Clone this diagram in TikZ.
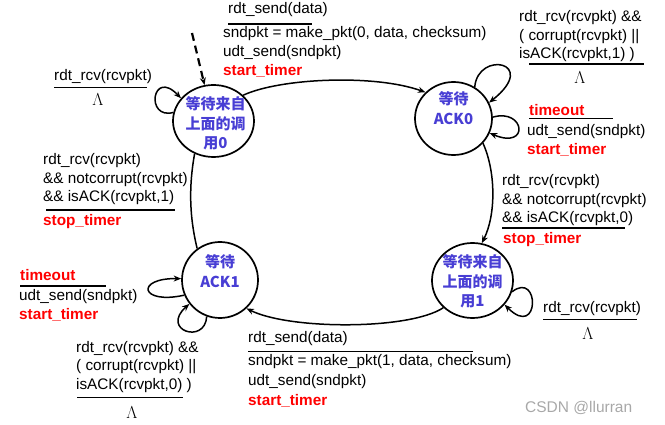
\documentclass[tikz,border=0pt]{standalone}
\usepackage{fontspec}
\setmainfont{Liberation Sans}
\newfontfamily\cjk{Noto Sans CJK SC}
\usetikzlibrary{arrows.meta,shapes.geometric}
\definecolor{stblue}{RGB}{72,62,212}
\definecolor{wmgray}{RGB}{168,168,168}
\begin{document}
\begin{tikzpicture}[x=1pt,y=-1pt,
  txt/.style={anchor=west,inner sep=0pt,font=\fontsize{15.3}{18}\selectfont},
  redtxt/.style={txt,text=red,font=\fontsize{15.3}{18}\selectfont\bfseries},
  lam/.style={inner sep=0pt,font=\fontsize{17.5}{20}\selectfont},
  stnode/.style={draw,ellipse,line width=1.7pt,inner sep=0pt},
  sttxt/.style={inner sep=0pt,align=center,text=stblue,font=\cjk\bfseries\fontsize{15}{19.5}\selectfont},
  uline/.style={line width=1.9pt},
  edge/.style={line width=1.5pt,-{Stealth[length=7.5pt,width=6pt]}},
  plainedge/.style={line width=1.5pt}]
\useasboundingbox (0,0) rectangle (665,425);

% states
\node[stnode,minimum width=81pt,minimum height=72pt] (s0) at (213.5,121) {};
\node[sttxt] (s0t) at (215.5,123.5) {等待来自\\上面的调\\用0};
\node[stnode,minimum width=77pt,minimum height=73pt] (ack0) at (453.5,118.5) {};
\node[sttxt] (ack0t) at (453.5,108) {等待\\ACK0};
\node[stnode,minimum width=76pt,minimum height=76pt] (ack1) at (220,280) {};
\node[sttxt] (ack1t) at (220,271) {等待\\ACK1};
\node[stnode,minimum width=81pt,minimum height=75pt] (s1) at (472.5,280.5) {};
\node[sttxt] (s1t) at (472.5,281.5) {等待来自\\上面的调\\用1};

% initial dashed arrow
\coordinate (init) at (192,33);
\draw[edge,line width=2.2pt,dash pattern=on 8pt off 5pt] (init) -- (s0.104);

% transitions
\draw[edge] (s0.41) .. controls (280,78) and (375,74) .. (ack0.137);
\draw[edge] (ack0.-40) .. controls (496,172) and (496,215) .. (s1.76);
\draw[edge] (s1.223) .. controls (410,330) and (290,330) .. (ack1.-47);
\draw[plainedge] (ack1.126) .. controls (189,215) and (189,185) .. (s0.240);

% self loops
\draw[edge] (s0.168) .. controls (145,120) and (152,68) .. (s0.145);
\draw[edge] (ack0.56) .. controls (478,50) and (540,62) .. (ack0.24);
\draw[edge] (ack0.2) .. controls (525,108) and (530,150) .. (ack0.-22);
\draw[edge] (s1.-16) .. controls (540,270) and (540,340) .. (s1.-37);
\draw[edge] (ack1.203) .. controls (140,305) and (135,278) .. (ack1.178);
\draw[edge] (ack1.250) .. controls (205,345) and (160,330) .. (ack1.218);

% top label (s0 -> ack0)
\node[txt] (t1) at (228,10) {rdt\_send(data)};
\draw[uline] (228,24) -- (312,24);
\node[txt] (t2) at (223,34) {sndpkt = make\_pkt(0, data, checksum)};
\node[txt] (t3) at (223,52.5) {udt\_send(sndpkt)};
\node[redtxt] (t4) at (223,71) {start\_timer};

% s0 self-loop label
\node[txt] (a1) at (54,77) {rdt\_rcv(rcvpkt)};
\draw[uline] (54,87.5) -- (147,87.5);
\node[lam] (a2) at (98,100) {$\Lambda$};

% left label (ack1 -> s0)
\node[txt] (l1) at (43,161) {rdt\_rcv(rcvpkt)};
\node[txt] (l2) at (43,179.5) {\&\& notcorrupt(rcvpkt)};
\node[txt] (l3) at (43,198) {\&\& isACK(rcvpkt,1)};
\draw[uline] (46,210) -- (175,210);
\node[redtxt] (l4) at (43,222) {stop\_timer};

% ack0 upper loop label
\node[txt] (b1) at (519,18) {rdt\_rcv(rcvpkt) \&\&};
\node[txt] (b2) at (519,37) {( corrupt(rcvpkt) ||};
\node[txt] (b3) at (519,55) {isACK(rcvpkt,1) )};
\draw[uline] (529,64) -- (644,64);
\node[lam] (b4) at (580,78) {$\Lambda$};

% ack0 timeout label
\node[redtxt] (c1) at (529,110) {timeout};
\draw[uline] (529,118.5) -- (613,118.5);
\node[txt] (c2) at (527,131.5) {udt\_send(sndpkt)};
\node[redtxt] (c3) at (527,150) {start\_timer};

% right label (ack0 -> s1)
\node[txt] (r1) at (502,182) {rdt\_rcv(rcvpkt)};
\node[txt] (r2) at (502,200.5) {\&\& notcorrupt(rcvpkt)};
\node[txt] (r3) at (502,218.5) {\&\& isACK(rcvpkt,0)};
\draw[uline] (502,228) -- (625,228);
\node[redtxt] (r4) at (503,240) {stop\_timer};

% s1 self-loop label
\node[txt] (d1) at (543,309) {rdt\_rcv(rcvpkt)};
\draw[uline] (543,319.5) -- (637,319.5);
\node[lam] (d2) at (588,334) {$\Lambda$};

% bottom label (s1 -> ack1)
\node[txt] (e1) at (248,338.5) {rdt\_send(data)};
\draw[uline] (248,351.5) -- (473,351.5);
\node[txt] (e2) at (248,362) {sndpkt = make\_pkt(1, data, checksum)};
\node[txt] (e3) at (248,381.5) {udt\_send(sndpkt)};
\node[redtxt] (e4) at (248,400.5) {start\_timer};

% ack1 timeout label
\node[redtxt] (f1) at (20,275) {timeout};
\draw[uline] (20,286) -- (106,286);
\node[txt] (f2) at (19,297) {udt\_send(sndpkt)};
\node[redtxt] (f3) at (19,315) {start\_timer};

% ack1 bottom loop label
\node[txt] (g1) at (76,348.5) {rdt\_rcv(rcvpkt) \&\&};
\node[txt] (g2) at (76,367) {( corrupt(rcvpkt) ||};
\node[txt] (g3) at (76,385.5) {isACK(rcvpkt,0) )};
\draw[uline] (77,397.5) -- (183,397.5);
\node[lam] (g4) at (132,413) {$\Lambda$};

% watermark
\node[txt,text=wmgray,font=\fontsize{15.5}{18}\selectfont] (wm) at (525,408) {CSDN @llurran};
\end{tikzpicture}
\end{document}
